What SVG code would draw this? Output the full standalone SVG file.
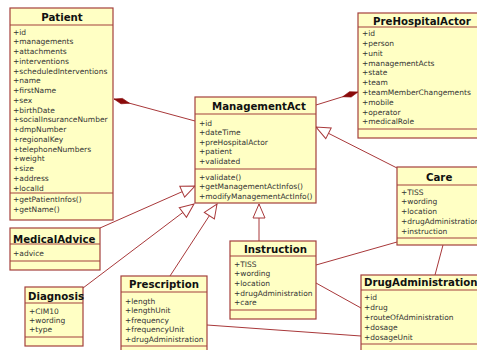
<svg xmlns="http://www.w3.org/2000/svg" width="477" height="350" viewBox="0 0 477 350">
<style>
.box{fill:#ffffc4;stroke:#a4403c;stroke-width:1.2}
.sep{stroke:#a4403c;stroke-width:1.2}
.t{font-family:"DejaVu Sans",Verdana,sans-serif;font-weight:bold;font-size:10.2px;fill:#111}
.a{font-family:"DejaVu Sans",Verdana,sans-serif;font-size:7.5px;fill:#333}
.ln{stroke:#a8383a;stroke-width:1;fill:none}
</style>
<defs>
<marker id="gen" markerUnits="userSpaceOnUse" markerWidth="16" markerHeight="14" refX="14" refY="7" orient="auto" overflow="visible">
<path d="M0,1 L14,7 L0,13 Z" fill="#fff" stroke="#a8383a" stroke-width="1"/>
</marker>
<marker id="comp" markerUnits="userSpaceOnUse" markerWidth="18" markerHeight="8" refX="17" refY="4" orient="auto" overflow="visible">
<path d="M1,4 L9,1.2 L17,4 L9,6.8 Z" fill="#8a0a0a" stroke="#8a0a0a" stroke-width="0.6"/>
</marker>
</defs>
<g id="connectors">
<path class="ln" d="M195,121 L114,99" marker-end="url(#comp)"/>
<path class="ln" d="M316,105 L358,92" marker-end="url(#comp)"/>
<path class="ln" d="M397,168 L316,127" marker-end="url(#gen)"/>
<path class="ln" d="M100,228 L195,186" marker-end="url(#gen)"/>
<path class="ln" d="M83,288 L194,204" marker-end="url(#gen)"/>
<path class="ln" d="M170,276 L217,204" marker-end="url(#gen)"/>
<path class="ln" d="M259,241 L259,204" marker-end="url(#gen)"/>
<path class="ln" d="M316,265 L397,242"/>
<path class="ln" d="M316,283 L361,308"/>
<path class="ln" d="M207,325 L361,336"/>
<path class="ln" d="M443,245 L435,275"/>
</g>
<g id="Patient">
<rect class="box" x="10" y="8" width="103" height="212"/>
<line class="sep" x1="10" y1="25" x2="113" y2="25"/>
<line class="sep" x1="10" y1="193" x2="113" y2="193"/>
<text class="t" x="62" y="21" text-anchor="middle">Patient</text>
<text class="a" x="13" y="34.5">+id</text>
<text class="a" x="13" y="44.2">+managements</text>
<text class="a" x="13" y="54">+attachments</text>
<text class="a" x="13" y="63.7">+interventions</text>
<text class="a" x="13" y="73.5">+scheduledInterventions</text>
<text class="a" x="13" y="83.2">+name</text>
<text class="a" x="13" y="93">+firstName</text>
<text class="a" x="13" y="102.7">+sex</text>
<text class="a" x="13" y="112.5">+birthDate</text>
<text class="a" x="13" y="122.2">+socialInsuranceNumber</text>
<text class="a" x="13" y="132">+dmpNumber</text>
<text class="a" x="13" y="141.7">+regionalKey</text>
<text class="a" x="13" y="151.5">+telephoneNumbers</text>
<text class="a" x="13" y="161.2">+weight</text>
<text class="a" x="13" y="171">+size</text>
<text class="a" x="13" y="180.7">+address</text>
<text class="a" x="13" y="190.5">+localId</text>
<text class="a" x="13" y="202">+getPatientInfos()</text>
<text class="a" x="13" y="212">+getName()</text>
</g>
<g id="PreHospitalActor">
<rect class="box" x="358" y="13" width="125" height="125"/>
<line class="sep" x1="358" y1="27" x2="483" y2="27"/>
<line class="sep" x1="358" y1="129" x2="483" y2="129"/>
<text class="t" x="373" y="24.5">PreHospitalActor</text>
<text class="a" x="362" y="36">+id</text>
<text class="a" x="362" y="45.8">+person</text>
<text class="a" x="362" y="55.6">+unit</text>
<text class="a" x="362" y="65.5">+managementActs</text>
<text class="a" x="362" y="75.3">+state</text>
<text class="a" x="362" y="85.1">+team</text>
<text class="a" x="362" y="94.9">+teamMemberChangements</text>
<text class="a" x="362" y="104.7">+mobile</text>
<text class="a" x="362" y="114.6">+operator</text>
<text class="a" x="362" y="124.4">+medicalRole</text>
</g>
<g id="ManagementAct">
<rect class="box" x="195" y="97" width="121" height="106"/>
<line class="sep" x1="195" y1="114" x2="316" y2="114"/>
<line class="sep" x1="195" y1="169" x2="316" y2="169"/>
<text class="t" x="212" y="110">ManagementAct</text>
<text class="a" x="199" y="126">+id</text>
<text class="a" x="199" y="135.4">+dateTime</text>
<text class="a" x="199" y="144.8">+preHospitalActor</text>
<text class="a" x="199" y="154.2">+patient</text>
<text class="a" x="199" y="163.5">+validated</text>
<text class="a" x="199" y="180">+validate()</text>
<text class="a" x="199" y="189.3">+getManagementActInfos()</text>
<text class="a" x="199" y="198.6">+modifyManagementActInfo()</text>
</g>
<g id="Care">
<rect class="box" x="397" y="167" width="85" height="78"/>
<line class="sep" x1="397" y1="185" x2="482" y2="185"/>
<line class="sep" x1="397" y1="238" x2="482" y2="238"/>
<text class="t" x="426" y="181">Care</text>
<text class="a" x="401" y="194.5">+TISS</text>
<text class="a" x="401" y="204.3">+wording</text>
<text class="a" x="401" y="214">+location</text>
<text class="a" x="401" y="223.8">+drugAdministration</text>
<text class="a" x="401" y="233.5">+instruction</text>
</g>
<g id="DrugAdministration">
<rect class="box" x="361" y="275" width="125" height="90"/>
<line class="sep" x1="361" y1="290" x2="486" y2="290"/>
<line class="sep" x1="361" y1="344" x2="486" y2="344"/>
<text class="t" x="364" y="286">DrugAdministration</text>
<text class="a" x="364" y="299.5">+id</text>
<text class="a" x="364" y="309.5">+drug</text>
<text class="a" x="364" y="319.5">+routeOfAdministration</text>
<text class="a" x="364" y="329.5">+dosage</text>
<text class="a" x="364" y="339.5">+dosageUnit</text>
</g>
<g id="Instruction">
<rect class="box" x="230" y="241" width="86" height="78"/>
<line class="sep" x1="230" y1="256" x2="316" y2="256"/>
<line class="sep" x1="230" y1="310" x2="316" y2="310"/>
<text class="t" x="244" y="253">Instruction</text>
<text class="a" x="234" y="266.5">+TISS</text>
<text class="a" x="234" y="276.2">+wording</text>
<text class="a" x="234" y="285.9">+location</text>
<text class="a" x="234" y="295.6">+drugAdministration</text>
<text class="a" x="234" y="305.3">+care</text>
</g>
<g id="Prescription">
<rect class="box" x="121" y="276" width="86" height="80"/>
<line class="sep" x1="121" y1="292" x2="207" y2="292"/>
<line class="sep" x1="121" y1="346" x2="207" y2="346"/>
<text class="t" x="129" y="288">Prescription</text>
<text class="a" x="125" y="303.5">+length</text>
<text class="a" x="125" y="313">+lengthUnit</text>
<text class="a" x="125" y="322.5">+frequency</text>
<text class="a" x="125" y="332">+frequencyUnit</text>
<text class="a" x="125" y="341.5">+drugAdministration</text>
</g>
<g id="MedicalAdvice">
<rect class="box" x="10" y="228" width="90" height="42"/>
<line class="sep" x1="10" y1="244" x2="100" y2="244"/>
<line class="sep" x1="10" y1="261" x2="100" y2="261"/>
<text class="t" x="13" y="243">MedicalAdvice</text>
<text class="a" x="13" y="255.5">+advice</text>
</g>
<g id="Diagnosis">
<rect class="box" x="25" y="287" width="58" height="59"/>
<line class="sep" x1="25" y1="303" x2="83" y2="303"/>
<line class="sep" x1="25" y1="337" x2="83" y2="337"/>
<text class="t" x="28" y="300">Diagnosis</text>
<text class="a" x="29" y="313.5">+CIM10</text>
<text class="a" x="29" y="322.5">+wording</text>
<text class="a" x="29" y="331.5">+type</text>
</g>
</svg>
